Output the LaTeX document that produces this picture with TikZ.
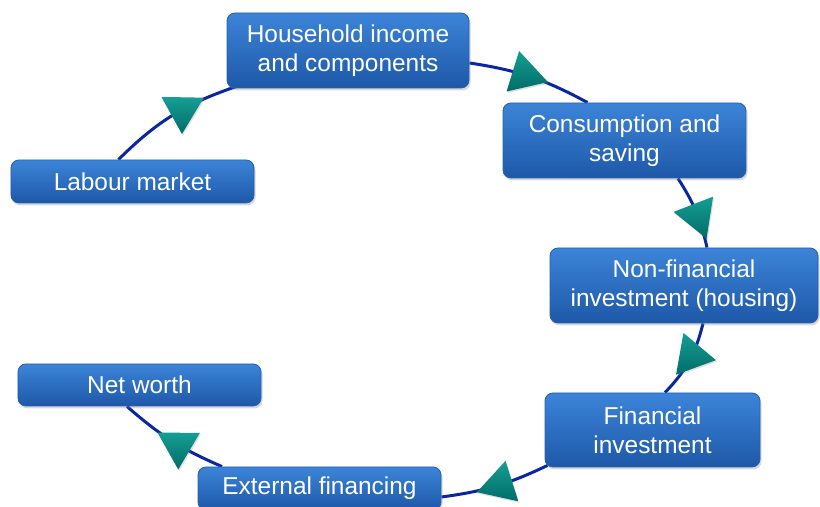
\documentclass[tikz,border=0pt]{standalone}
\usepackage{fontspec}
\setmainfont{Liberation Sans}
\usetikzlibrary{shadows,decorations.markings,backgrounds}

\definecolor{boxtop}{RGB}{60,132,216}
\definecolor{boxbot}{RGB}{30,88,168}
\definecolor{boxline}{RGB}{40,96,176}
\definecolor{flowline}{RGB}{10,38,160}
\definecolor{headlight}{RGB}{22,158,148}
\definecolor{headdark}{RGB}{0,108,104}

\tikzset{
	box/.style={rounded corners=0.16cm, top color=boxtop, bottom color=boxbot, draw=boxline, line width=0.5pt,
		text=white, align=center, inner sep=0pt, font=\fontsize{13.9}{16.5}\selectfont,
		minimum width=4.86cm, minimum height=0.86cm,
		drop shadow={opacity=0.3, shadow xshift=0.03cm, shadow yshift=-0.05cm}},
	flow/.style 2 args={draw=flowline, line width=0.06cm, postaction={decorate},
		decoration={markings, mark=at position #1 with {
			\shade[rotate=#2, top color=headlight, bottom color=headdark,
				drop shadow={opacity=0.25, shadow xshift=0.02cm, shadow yshift=-0.03cm}]
				(0.49,0) -- (-0.245,0.424) -- (-0.245,-0.424) -- cycle;}}}
}

\begin{document}
\begin{tikzpicture}
	\useasboundingbox (0,0) rectangle (16.4,10.14);
	\node[box, minimum width=4.84cm, minimum height=1.5cm] (hh) at (6.96,9.13) {Household income\\and components};
	\node[box, minimum height=1.5cm] (cons) at (12.49,7.33) {Consumption and\\saving};
	\node[box] (lab) at (2.65,6.51) {Labour market};
	\node[box, minimum width=5.36cm, minimum height=1.5cm] (nonfin) at (13.68,4.43) {Non-financial\\investment (housing)};
	\node[box, minimum height=0.84cm] (net) at (2.79,2.44) {Net worth};
	\node[box, minimum width=4.3cm, minimum height=1.48cm] (fin) at (13.05,1.54) {Financial\\investment};
	\node[box] (ext) at (6.39,0.37) {External financing};
	\begin{scope}[on background layer]
		\draw[flow={0.58}{0}] ([xshift=-0.28cm]lab.north) to[bend left=13] ([xshift=0.2cm,yshift=0.04cm]hh.south west);
		\draw[flow={0.45}{0}] ([yshift=-0.25cm]hh.east) to[bend left=10] ([xshift=-0.74cm]cons.north);
		\draw[flow={0.56}{0}] ([xshift=1.07cm]cons.south) to[bend left=10] ([xshift=0.46cm]nonfin.north);
		\draw[flow={0.43}{-14}] ([xshift=0.38cm]nonfin.south) to[bend left=15] ([xshift=0.25cm]fin.north);
		\draw[flow={0.46}{0}] ([xshift=0.06cm,yshift=0.04cm]fin.south west) to[bend left=9] ([yshift=-0.17cm]ext.east);
		\draw[flow={0.43}{0}] ([xshift=-1.95cm]ext.north) to[bend left=9] ([xshift=-0.25cm]net.south);
	\end{scope}
\end{tikzpicture}
\end{document}
